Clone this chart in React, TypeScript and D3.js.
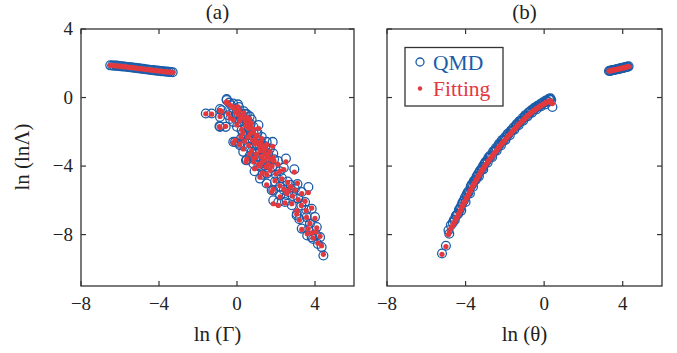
import React from "react";
import * as d3 from "d3";

// ---------- data: [x, lnΛ (QMD), lnΛ (Fitting)] ----------
// panel (a): x = ln Γ
const bandA: [number, number, number][] = [
  [-6.5, 1.88, 1.88], [-6.4, 1.87, 1.87], [-6.3, 1.86, 1.85], [-6.2, 1.86, 1.85], [-6.1, 1.85, 1.84],
  [-6.0, 1.83, 1.83], [-5.9, 1.82, 1.82], [-5.8, 1.81, 1.8], [-5.7, 1.8, 1.79], [-5.6, 1.78, 1.78],
  [-5.5, 1.77, 1.76], [-5.4, 1.76, 1.75], [-5.3, 1.74, 1.74], [-5.2, 1.73, 1.72], [-5.1, 1.71, 1.71],
  [-5.0, 1.7, 1.69], [-4.9, 1.68, 1.68], [-4.8, 1.67, 1.66], [-4.7, 1.65, 1.65], [-4.6, 1.64, 1.63],
  [-4.5, 1.62, 1.62], [-4.4, 1.61, 1.6], [-4.3, 1.6, 1.59], [-4.2, 1.58, 1.58], [-4.1, 1.57, 1.56],
  [-4.0, 1.56, 1.55], [-3.9, 1.54, 1.54], [-3.8, 1.53, 1.52], [-3.7, 1.52, 1.51], [-3.6, 1.51, 1.5],
  [-3.5, 1.5, 1.49], [-3.4, 1.49, 1.48], [-3.3, 1.48, 1.47],
];

const clusterA: [number, number, number][] = [
  [-1.6, -0.93, -0.95], [-1.3, -0.93, -0.97], [-0.87, -0.67, -0.75], [-0.9, -1.67, -1.7],
  [-0.58, -1.71, -1.68], [-0.53, -0.15, -0.3], [-0.19, -2.59, -2.65], [0.12, -2.7, -2.75],
  [0.46, -3.66, -3.75], [0.84, -3.46, -3.55], [1.18, -4.05, -4.0], [1.53, -4.44, -4.5],
  [1.83, -2.59, -2.85], [2.51, -3.56, -3.75], [2.94, -4.19, -4.35], [3.66, -5.22, -5.55],
  [1.18, -4.73, -4.65], [1.52, -5.02, -5.1], [1.86, -5.42, -5.35], [2.21, -5.71, -5.8],
  [2.63, -5.51, -5.45], [2.97, -5.32, -5.4], [3.32, -5.51, -5.6], [3.14, -5.9, -5.95],
  [2.81, -6.29, -6.2], [2.46, -6.1, -6.15], [2.12, -6.1, -6.3], [3.49, -6.1, -6.05],
  [3.83, -6.49, -6.45], [3.06, -6.88, -6.8], [3.57, -6.98, -7.0], [4.0, -6.98, -7.05],
  [3.32, -7.65, -7.7], [3.74, -7.36, -7.35], [4.09, -7.56, -7.6], [3.83, -8.15, -7.9],
  [4.26, -8.15, -8.1], [4.34, -8.73, -8.65], [4.43, -9.22, -9.15], [3.9, -8.25, -8.2],
  [3.6, -8.05, -7.95], [1.86, -6.0, -6.2], [3.07, -6.78, -6.6], [1.78, -5.41, -5.5],
  [-0.53, -0.09, -0.25], [-0.78, -0.74, -0.8], [-0.87, -1.13, -1.1], [-0.87, -1.71, -1.75],
  [-0.45, -1.03, -0.95], [-0.19, -0.64, -0.6], [0.07, -0.93, -1.0], [0.5, -1.32, -1.45],
  [0.84, -1.71, -1.85], [1.01, -2.1, -2.2], [1.27, -2.3, -2.4], [1.52, -2.59, -2.75],
  [-0.1, -2.59, -2.5], [0.15, -2.78, -2.7], [0.5, -3.66, -3.6], [0.84, -3.85, -3.75],
  [1.27, -3.85, -3.8], [1.6, -3.95, -3.9], [1.86, -3.27, -3.5], [0.24, -1.9, -1.85],
  [0.58, -2.39, -2.3], [0.92, -2.78, -2.7], [1.18, -3.08, -3.1], [1.44, -3.37, -3.35],
  [1.69, -2.98, -3.15], [0.75, -3.17, -3.1], [0.32, -3.17, -3.0], [0.58, -1.51, -1.6],
  [0.15, -1.42, -1.35], [-0.19, -1.42, -1.3], [0.75, -1.28, -1.5], [0.5, -0.97, -1.15],
  [0.3, -2.1, -2.05], [0.6, -2.9, -2.8], [1.0, -3.3, -3.3], [1.4, -3.7, -3.65],
  [1.7, -4.3, -4.25], [2.0, -4.5, -4.45], [2.3, -4.7, -4.75], [2.6, -4.9, -4.95],
  [2.2, -5.2, -5.15], [1.95, -4.9, -4.85], [2.75, -5.1, -5.2], [3.1, -5.05, -5.0],
  [2.4, -5.4, -5.35], [0.9, -4.3, -4.15], [1.3, -4.5, -4.4], [2.1, -3.7, -3.9],
  [2.4, -4.1, -4.2], [1.0, -2.7, -2.6], [0.7, -2.2, -2.1], [0.45, -1.7, -1.65],
  [0.2, -1.2, -1.2], [-0.05, -0.95, -0.9], [-0.3, -0.45, -0.5], [0.05, -0.4, -0.55],
  [0.35, -0.8, -0.9], [0.65, -1.1, -1.25], [1.1, -1.6, -1.8], [-0.35, -1.25, -1.2],
  [0.0, -1.7, -1.6], [0.2, -2.4, -2.3], [0.4, -2.65, -2.55], [0.8, -2.45, -2.5],
  [1.15, -2.75, -2.85], [1.35, -3.0, -3.1], [1.6, -3.25, -3.3], [1.9, -3.6, -3.7],
  [2.2, -4.3, -4.3], [0.95, -3.6, -3.5], [1.1, -3.95, -3.9], [1.5, -4.1, -4.05],
  [2.55, -5.7, -5.6], [2.85, -5.75, -5.75], [3.3, -6.3, -6.3], [3.55, -6.55, -6.6],
  [3.2, -7.1, -7.15], [3.65, -7.7, -7.65], [4.05, -8.0, -7.85], [4.15, -8.55, -8.5],
  [-0.4, -0.3, -0.4], [-0.2, -0.35, -0.55], [0.0, -0.7, -0.8], [0.1, -0.55, -0.75],
  [0.25, -1.0, -1.1], [0.4, -0.95, -1.2], [0.45, -1.35, -1.4], [0.6, -1.8, -1.8],
  [0.7, -1.55, -1.7], [0.85, -2.05, -2.0], [0.95, -2.35, -2.35], [1.05, -2.05, -2.25],
  [1.2, -2.55, -2.6], [1.3, -2.75, -2.8], [1.45, -2.85, -3.0], [1.55, -3.5, -3.45],
  [1.7, -3.6, -3.6], [1.8, -4.05, -4.0], [1.25, -3.5, -3.45], [0.65, -3.4, -3.3],
];

// panel (b): x = ln θ
const bandB: [number, number, number][] = [
  [3.3, 1.55, 1.55], [3.35, 1.56, 1.56], [3.4, 1.57, 1.57], [3.45, 1.59, 1.58], [3.5, 1.6, 1.6],
  [3.55, 1.61, 1.61], [3.6, 1.62, 1.62], [3.65, 1.64, 1.63], [3.7, 1.65, 1.65], [3.75, 1.66, 1.66],
  [3.8, 1.67, 1.67], [3.85, 1.69, 1.68], [3.9, 1.7, 1.7], [3.95, 1.72, 1.71], [4.0, 1.73, 1.73],
  [4.05, 1.74, 1.74], [4.1, 1.76, 1.75], [4.15, 1.77, 1.77], [4.2, 1.79, 1.78], [4.25, 1.8, 1.8],
  [4.3, 1.82, 1.81],
];

const curveB: [number, number, number][] = [
  [-5.2, -9.1, -9.15], [-5.0, -8.65, -8.7], [-4.87, -7.75, -8.0], [-4.83, -7.95, -7.85],
  [-4.65, -7.3, -7.45], [-4.55, -7.15, -7.25], [-4.45, -6.85, -7.0], [-4.38, -6.8, -6.85],
  [-4.3, -6.55, -6.7], [-4.22, -6.6, -6.5], [-4.15, -6.1, -6.3], [-4.08, -6.0, -6.15],
  [-4.0, -6.1, -6.0], [-3.92, -5.6, -5.8], [-3.85, -5.55, -5.65], [-3.78, -5.6, -5.5],
  [-3.7, -5.1, -5.3], [-3.62, -5.2, -5.15], [-3.55, -4.85, -5.0], [-3.48, -4.8, -4.85],
  [-3.4, -4.6, -4.7], [-3.32, -4.6, -4.55], [-3.25, -4.25, -4.4], [-3.17, -4.2, -4.27],
  [-3.1, -4.2, -4.15], [-3.02, -3.85, -4.0], [-2.95, -3.75, -3.88], [-2.88, -3.8, -3.77],
  [-2.8, -3.5, -3.65], [-2.72, -3.45, -3.53], [-2.65, -3.48, -3.42], [-2.57, -3.15, -3.3],
  [-2.5, -3.1, -3.2], [-2.42, -3.1, -3.08], [-2.35, -2.85, -2.97], [-2.27, -2.75, -2.86],
  [-2.2, -2.8, -2.76], [-2.12, -2.52, -2.65], [-2.05, -2.5, -2.56], [-1.97, -2.48, -2.45],
  [-1.9, -2.25, -2.35], [-1.82, -2.15, -2.25], [-1.75, -2.2, -2.15], [-1.67, -1.92, -2.05],
  [-1.6, -1.9, -1.96], [-1.52, -1.88, -1.86], [-1.45, -1.65, -1.77], [-1.37, -1.6, -1.67],
  [-1.3, -1.62, -1.58], [-1.22, -1.38, -1.49], [-1.15, -1.35, -1.41], [-1.07, -1.35, -1.32],
  [-1.0, -1.12, -1.24], [-0.92, -1.1, -1.15], [-0.85, -1.1, -1.07], [-0.77, -0.88, -0.99],
  [-0.7, -0.85, -0.92], [-0.62, -0.88, -0.85], [-0.55, -0.68, -0.78], [-0.47, -0.65, -0.72],
  [-0.4, -0.7, -0.66], [-0.32, -0.5, -0.6], [-0.25, -0.5, -0.54], [-0.17, -0.52, -0.48],
  [-0.1, -0.35, -0.43], [-0.02, -0.32, -0.38], [0.05, -0.4, -0.33], [0.12, -0.2, -0.28],
  [0.2, -0.25, -0.24], [0.28, -0.12, -0.2], [0.36, -0.15, -0.3], [0.42, -0.55, -0.35],
  [-4.75, -7.45, -7.65], [-4.6, -7.15, -7.35], [-4.5, -6.9, -7.1], [-4.34, -6.55, -6.78],
  [-4.26, -6.4, -6.6], [-4.18, -6.2, -6.38], [-4.04, -5.85, -6.08], [-3.96, -5.7, -5.9],
  [-3.88, -5.5, -5.72], [-3.74, -5.2, -5.4], [-3.66, -5.05, -5.22], [-3.58, -4.88, -5.06],
  [-3.44, -4.6, -4.78], [-3.36, -4.45, -4.62], [-3.28, -4.3, -4.47], [-3.14, -4.05, -4.2],
  [-3.06, -3.9, -4.07], [-2.98, -3.75, -3.94], [-2.84, -3.5, -3.7], [-2.76, -3.4, -3.59],
  [-2.6, -3.15, -3.35], [-2.46, -2.95, -3.14], [-2.3, -2.7, -2.9], [-2.16, -2.5, -2.7],
  [-2.0, -2.32, -2.5], [-1.86, -2.12, -2.3], [-1.7, -1.95, -2.1], [-1.56, -1.75, -1.91],
  [-1.4, -1.55, -1.72], [-1.26, -1.38, -1.53], [-1.1, -1.2, -1.36], [-0.96, -1.03, -1.2],
  [-0.8, -0.88, -1.02], [-0.66, -0.75, -0.89], [-0.5, -0.6, -0.75], [-0.36, -0.5, -0.63],
  [-0.2, -0.38, -0.5], [-0.06, -0.28, -0.4], [0.08, -0.18, -0.3], [0.24, -0.08, -0.22],
  [0.32, -0.05, -0.2],
];

const xTicks = [-8, -4, 0, 4];
const yTicks = [4, 0, -4, -8];
const xDomain: [number, number] = [-8, 6];
const yDomain: [number, number] = [-11, 4];

const BLUE = "#1b5ca9";
const RED = "#e2393f";
const AXIS = "#333333";
const FONT = "'Times New Roman', 'Liberation Serif', Times, serif";

const fmt = (v: number) => (v < 0 ? "\u2212" + Math.abs(v) : String(v));

function Panel({
  left, right, top, bottom, sets, label, xTitle, showYLabels,
}: {
  left: number; right: number; top: number; bottom: number;
  sets: [number, number, number][][]; label: string; xTitle: string; showYLabels: boolean;
}) {
  const x = d3.scaleLinear().domain(xDomain).range([left, right]);
  const y = d3.scaleLinear().domain(yDomain).range([bottom, top]);
  const tl = 5;
  const all = sets.flat();
  return (
    <g>
      {xTicks.map((t) => (
        <g key={"x" + t}>
          <line x1={x(t)} x2={x(t)} y1={bottom} y2={bottom - tl} stroke={AXIS} strokeWidth={1.2} />
          <line x1={x(t)} x2={x(t)} y1={top} y2={top + tl} stroke={AXIS} strokeWidth={1.2} />
          <text x={x(t)} y={bottom + 24} textAnchor="middle" fontSize={19} fontFamily={FONT} fill="#222">
            {fmt(t)}
          </text>
        </g>
      ))}
      {yTicks.map((t) => (
        <g key={"y" + t}>
          <line x1={left} x2={left + tl} y1={y(t)} y2={y(t)} stroke={AXIS} strokeWidth={1.2} />
          <line x1={right} x2={right - tl} y1={y(t)} y2={y(t)} stroke={AXIS} strokeWidth={1.2} />
          {showYLabels && (
            <text x={left - 8} y={y(t) + 6} textAnchor="end" fontSize={19} fontFamily={FONT} fill="#222">
              {fmt(t)}
            </text>
          )}
        </g>
      ))}
      {all.map((d, i) => (
        <circle key={"q" + i} cx={x(d[0])} cy={y(d[1])} r={4.4} fill="none" stroke={BLUE} strokeWidth={1.3} />
      ))}
      {all.map((d, i) => (
        <circle key={"f" + i} cx={x(d[0])} cy={y(d[2])} r={2.6} fill={RED} />
      ))}
      <rect x={left} y={top} width={right - left} height={bottom - top} fill="none" stroke={AXIS} strokeWidth={1.3} />
      <text x={(left + right) / 2} y={19} textAnchor="middle" fontSize={21} fontFamily={FONT} fill="#222">
        {label}
      </text>
      <text x={(left + right) / 2} y={341} textAnchor="middle" fontSize={21} fontFamily={FONT} fill="#222">
        {xTitle}
      </text>
    </g>
  );
}

export default function App() {
  return (
    <svg width={677} height={353} style={{ position: "absolute", left: 0, top: 0, background: "#fff" }}>
      <rect width={677} height={353} fill="#fff" />
      <Panel left={81} right={354} top={29} bottom={286} sets={[bandA, clusterA]} label="(a)" xTitle="ln (Γ)" showYLabels={true} />
      <Panel left={387} right={662} top={29} bottom={286} sets={[bandB, curveB]} label="(b)" xTitle="ln (θ)" showYLabels={false} />
      <text transform="translate(29,157) rotate(-90)" textAnchor="middle" fontSize={21} fontFamily={FONT} fill="#222">
        ln (lnΛ)
      </text>
      <g>
        <rect x={405} y={47.5} width={98} height={58.5} fill="#fff" stroke={AXIS} strokeWidth={1.3} />
        <circle cx={420} cy={62} r={4} fill="none" stroke={BLUE} strokeWidth={1.3} />
        <text x={433} y={69.5} fontSize={21.5} fontFamily={FONT} fill={BLUE}>QMD</text>
        <circle cx={420} cy={88.5} r={2.2} fill={RED} />
        <text x={433} y={96} fontSize={21.5} fontFamily={FONT} fill={RED}>Fitting</text>
      </g>
    </svg>
  );
}
